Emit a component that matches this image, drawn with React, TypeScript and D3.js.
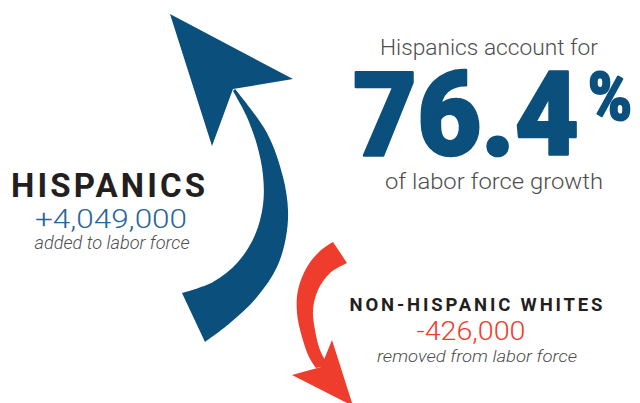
import React from "react";
import * as d3 from "d3";

// ---- data ----
const groups: string[] = ["HISPANICS", "NON-HISPANIC WHITES"];
const changes: number[] = [4049000, -426000];
const captions: string[] = ["added to labor force", "removed from labor force"];
const shareValue: number = 76.4;
const headlineTop = "Hispanics account for";
const headlineBottom = "of labor force growth";

const BLUE = "#0b4f7d";
const MIDBLUE = "#27659a";
const RED = "#ee3c2d";
const DARK = "#231f20";
const GRAY = "#4d4d4d";

type P = [number, number];

// arrow outlines (decorative shapes)
const blueHead: P[] = [[170, 14], [293, 79], [233, 89], [212, 146]];
const blueOuter: P[] = [[235, 89], [267, 133], [283, 177], [288, 210], [286, 237], [277, 267], [257, 297], [230, 323], [205, 342]];
const blueInner: P[] = [[182, 293], [213, 282], [238, 262], [255, 235], [263, 205], [263, 175], [257, 145], [246, 115], [233, 91]];

const redHead: P[] = [[332, 340], [353, 406], [292, 375], [321, 367]];
const redOuter: P[] = [[347, 263], [330, 273], [318, 290], [313, 310], [315, 330], [320, 350], [328, 365]];
const redInner: P[] = [[316, 368], [309, 357], [302, 337], [297, 313], [298, 290], [307, 267], [320, 251], [333, 242]];

const fmt = d3.formatLocale({ decimal: ".", thousands: ",", grouping: [3], currency: ["$", ""], minus: "-" }).format("+,");

function shaft(a: P[], b: P[]): string {
  const line = d3.line<P>().curve(d3.curveCatmullRom.alpha(0.5));
  const s1 = line(a) || "";
  const s2 = (line(b) || "").replace(/^M/, "L");
  return s1 + s2 + "Z";
}
function poly(pts: P[]): string {
  return (d3.line<P>()(pts) || "") + "Z";
}

export default function App() {
  const font = "Roboto, 'Open Sans', sans-serif";
  return (
    <svg width={640} height={403} style={{ position: "absolute", left: 0, top: 0, background: "#fff" }} fontFamily={font}>
      {/* blue arrow */}
      <path d={shaft(blueOuter, blueInner)} fill={BLUE} />
      <path d={poly(blueHead)} fill={BLUE} />
      {/* red arrow */}
      <path d={shaft(redOuter, redInner)} fill={RED} />
      <path d={poly(redHead)} fill={RED} />

      {/* headline */}
      <text x={489} y={55} textAnchor="middle" fontSize={22} fontWeight={300} fill={GRAY} textLength={218} lengthAdjust="spacingAndGlyphs">{headlineTop}</text>
      <text x={353} y={155} fontSize={116} fontWeight={900} fill={BLUE} stroke={BLUE} strokeWidth={2.5} strokeLinejoin="round" textLength={226} lengthAdjust="spacingAndGlyphs">{d3.format(".1f")(shareValue)}</text>
      <text x={588} y={120} fontSize={67} fontWeight={900} fill={BLUE} stroke={BLUE} strokeWidth={2} strokeLinejoin="round" textLength={44} lengthAdjust="spacingAndGlyphs">%</text>
      <text x={494} y={189} textAnchor="middle" fontSize={22} fontWeight={300} fill={GRAY} textLength={218} lengthAdjust="spacingAndGlyphs">{headlineBottom}</text>

      {/* Hispanics block */}
      <text x={108} y={197} textAnchor="middle" fontSize={33} fontWeight={700} fill={DARK} textLength={194} lengthAdjust="spacing">{groups[0]}</text>
      <text x={111} y={228} textAnchor="middle" fontSize={26} fontWeight={300} fill={MIDBLUE} textLength={152} lengthAdjust="spacingAndGlyphs">{fmt(changes[0])}</text>
      <text x={112} y={249} textAnchor="middle" fontSize={17.5} fontStyle="italic" fontWeight={300} fill={GRAY} textLength={155} lengthAdjust="spacingAndGlyphs">{captions[0]}</text>

      {/* Non-Hispanic whites block */}
      <text x={476} y={311} textAnchor="middle" fontSize={18.5} fontWeight={700} fill={DARK} textLength={253} lengthAdjust="spacing">{groups[1]}</text>
      <text x={471} y={340} textAnchor="middle" fontSize={25} fontWeight={300} fill={RED} textLength={109} lengthAdjust="spacingAndGlyphs">{fmt(changes[1])}</text>
      <text x={477} y={362} textAnchor="middle" fontSize={16.5} fontStyle="italic" fontWeight={300} fill={GRAY} textLength={200} lengthAdjust="spacingAndGlyphs">{captions[1]}</text>
    </svg>
  );
}
